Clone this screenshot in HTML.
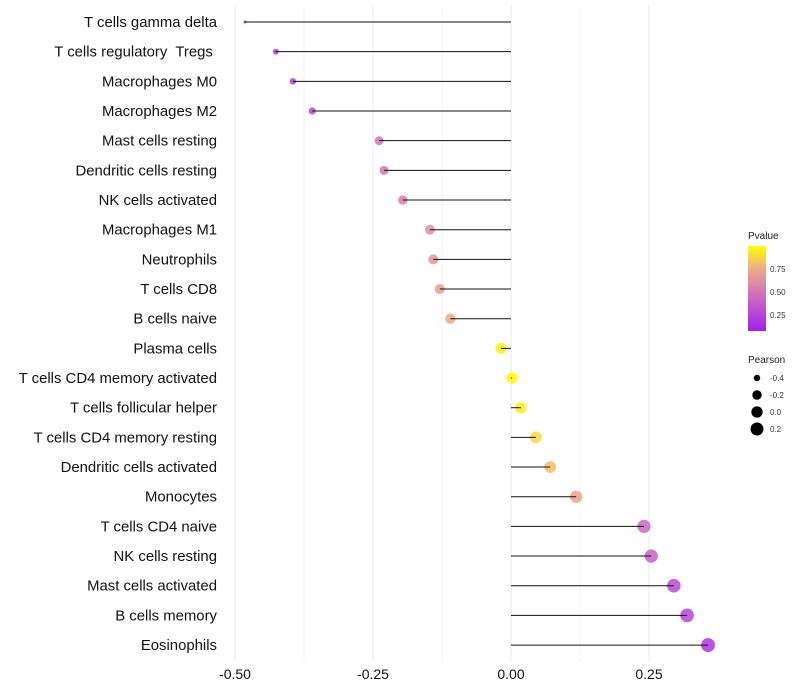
<!DOCTYPE html>
<html><head><meta charset="utf-8"><style>
body{margin:0;background:#fff;}
svg{display:block;font-family:"Liberation Sans",sans-serif;}
#ylabels text{white-space:pre;}
</style></head><body>
<svg id="chart" width="800" height="700" viewBox="0 0 800 700" xmlns="http://www.w3.org/2000/svg">
<g id="grid"></g><g id="marks"></g><g id="ylabels"></g><g id="xlabels"></g>
<g id="legend">
  <text x="748" y="239" font-size="10" fill="#222">Pvalue</text>
  <defs><linearGradient id="pg" x1="0" y1="1" x2="0" y2="0">
    <stop offset="0" stop-color="#a020f0"/><stop offset="0.45" stop-color="#d274b8"/><stop offset="0.75" stop-color="#f0b080"/><stop offset="1" stop-color="#ffff00"/>
  </linearGradient></defs>
  <rect x="748" y="246" width="18" height="85" fill="url(#pg)"/>
  <text x="770" y="272" font-size="8" fill="#333">0.75</text>
  <text x="770" y="295" font-size="8" fill="#333">0.50</text>
  <text x="770" y="318" font-size="8" fill="#333">0.25</text>
  <text x="748" y="363" font-size="10" fill="#222">Pearson</text>
  <g id="sizeleg"></g>
</g>
</svg>
<script>
const categories=["T cells gamma delta","T cells regulatory  Tregs ","Macrophages M0","Macrophages M2","Mast cells resting","Dendritic cells resting","NK cells activated","Macrophages M1","Neutrophils","T cells CD8","B cells naive","Plasma cells","T cells CD4 memory activated","T cells follicular helper","T cells CD4 memory resting","Dendritic cells activated","Monocytes","T cells CD4 naive","NK cells resting","Mast cells activated","B cells memory","Eosinophils"];
const pearson=[-0.482,-0.426,-0.395,-0.36,-0.239,-0.230,-0.196,-0.147,-0.141,-0.129,-0.110,-0.018,0.002,0.018,0.045,0.071,0.118,0.241,0.254,0.295,0.319,0.357];
const pvalue=[0.08,0.12,0.15,0.2,0.45,0.45,0.5,0.6,0.62,0.66,0.72,0.97,0.99,0.94,0.88,0.8,0.7,0.38,0.35,0.22,0.2,0.12];
const xTicks=[-0.5,-0.25,0,0.25];
const xTickLabels=["-0.50","-0.25","0.00","0.25"];
const legendVals=[-0.4,-0.2,0.0,0.2];
const legendLabels=["-0.4","-0.2","0.0","0.2"];
const NS="http://www.w3.org/2000/svg";
const x=v=>511+v*552;
const y=i=>22+i*29.67;
const r=v=>1.5+5.5*Math.sqrt(Math.max(0,(v+0.482)/0.839));
function lerp(a,b,t){return a+(b-a)*t;}
const stops=[[0,[160,32,240]],[0.45,[210,116,184]],[0.75,[240,176,128]],[1,[255,255,0]]];
function col(p){for(let k=1;k<stops.length;k++){if(p<=stops[k][0]){const a=stops[k-1],b=stops[k];const t=(p-a[0])/(b[0]-a[0]);return `rgb(${a[1].map((c,j)=>Math.round(lerp(c,b[1][j],t))).join(',')})`;}}return 'rgb(255,255,0)';}
function mk(tag,at,parent){const e=document.createElementNS(NS,tag);for(const k in at)e.setAttribute(k,at[k]);parent.appendChild(e);return e;}
const grid=document.getElementById('grid'),marks=document.getElementById('marks'),yl=document.getElementById('ylabels'),xl=document.getElementById('xlabels');
for(let k=0;k<7;k++){const v=-0.5+k*0.125;
  const g=mk('line',{x1:x(v),x2:x(v),y1:5,y2:662,stroke:'#ebebeb','stroke-width':k%2?0.6:1},grid);
  
  }
xTicks.forEach((v,i)=>{const t=mk('text',{x:x(v),y:679,'font-size':14,'text-anchor':'middle',fill:'#111'},xl);t.textContent=xTickLabels[i];
  
  });
categories.forEach((c,i)=>{
  const pt=mk('circle',{cx:x(pearson[i]),cy:y(i),r:r(pearson[i]),fill:col(pvalue[i]),'fill-opacity':0.85},marks);
  
  
  const ln=mk('line',{x1:x(0),x2:x(pearson[i]),y1:y(i),y2:y(i),stroke:'#111','stroke-width':1},marks);
  
  
  const t=mk('text',{x:217,y:y(i)+5,'font-size':14.9,'text-anchor':'end',fill:'#111'},yl);t.textContent=c;
  
  
});
const sl=document.getElementById('sizeleg');
legendVals.forEach((v,i)=>{const cy=378+i*17;
  const c=mk('circle',{cx:757,cy:cy,r:r(v),fill:'#000'},sl);
  
  
  const t=mk('text',{x:770,y:cy+3,'font-size':8,fill:'#333'},sl);t.textContent=legendLabels[i];
  
  });
</script>
</body></html>
